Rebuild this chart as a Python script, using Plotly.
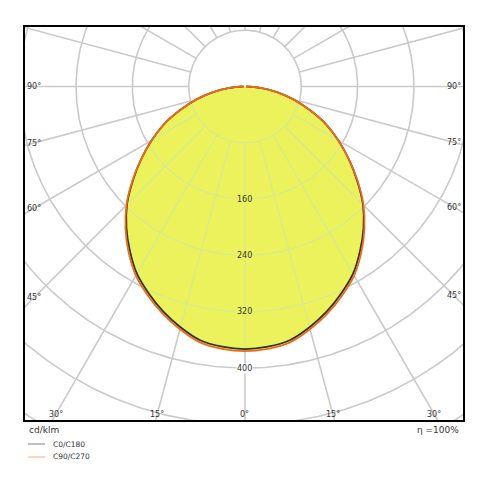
import numpy as np
import plotly.graph_objects as go

# luminous intensity in cd/klm, gamma 0..90 deg (mirrored for the other half-plane)
GAMMA = [0, 5, 10, 15, 20, 25, 30, 35, 40, 45, 50, 55, 60, 65, 70, 75, 80, 85, 90]
C0_C180 = [373, 371, 366, 354, 340, 324, 307, 285, 262, 237, 208, 180, 153, 127, 98, 72, 46, 22, 2]
C90_C270 = [376, 374, 369, 357, 343, 327, 310, 288, 264, 238, 209, 180, 153, 127, 98, 72, 46, 22, 2]

RINGS = [80, 160, 240, 320, 400, 480, 560, 640]
RING_LABELS = [160, 240, 320, 400]
SPOKES = list(range(0, 360, 15))
SIDE_LABELS = [90, 75, 60, 45]
BOTTOM_LABELS = [-30, -15, 0, 15, 30]

X_RANGE = [-312.5, 309.7]
Y_RANGE = [-473.7, 84.5]
GRID = '#cacaca'
GRID_IN = '#d7ea8e'
FILL = '#ecf25c'
TXT = '#333333'
FONT = 'DejaVu Sans'


def pol(r, g):
    g = np.radians(np.asarray(g, dtype=float))
    r = np.asarray(r, dtype=float)
    return r * np.sin(g), -r * np.cos(g)


def closed(vals):
    g = [-a for a in GAMMA[::-1]] + GAMMA[1:]
    v = vals[::-1] + vals[1:]
    return pol(v, g)


fig = go.Figure()

# polar grid: rings and spokes (spokes start at the first ring)
ring_x, ring_y = [], []
for R in RINGS:
    x, y = pol(np.full(721, R), np.linspace(0, 360, 721))
    ring_x += list(x) + [None]
    ring_y += list(y) + [None]
fig.add_trace(go.Scatter(x=ring_x, y=ring_y, mode='lines', line=dict(color=GRID, width=1.6), hoverinfo='skip'))

sp_x, sp_y = [], []
for a in SPOKES:
    x, y = pol([RINGS[0], 1000], [a, a])
    sp_x += list(x) + [None]
    sp_y += list(y) + [None]
fig.add_trace(go.Scatter(x=sp_x, y=sp_y, mode='lines', line=dict(color=GRID, width=1.6), hoverinfo='skip'))

# yellow area
fx, fy = closed(C90_C270)
fig.add_trace(go.Scatter(x=fx, y=fy, mode='lines', fill='toself', fillcolor=FILL,
                         line=dict(width=0, shape='spline', smoothing=0.9), hoverinfo='skip'))

# grid seen through the area
gi = np.linspace(-90, 90, 721)
Ii = np.interp(np.abs(gi), GAMMA, C0_C180)
in_x, in_y = [], []
for R in RINGS:
    x, y = pol(np.full(gi.size, R), gi)
    m = Ii > R + 2
    if not m.any():
        continue
    in_x += list(np.where(m, x, np.nan)) + [None]
    in_y += list(np.where(m, y, np.nan)) + [None]
for a in SPOKES:
    aa = a if a <= 180 else a - 360
    if abs(aa) >= 90:
        continue
    r_end = np.interp(abs(aa), GAMMA, C0_C180) - 2
    if r_end <= RINGS[0]:
        continue
    x, y = pol([RINGS[0], r_end], [aa, aa])
    in_x += list(x) + [None]
    in_y += list(y) + [None]
fig.add_trace(go.Scatter(x=in_x, y=in_y, mode='lines', line=dict(color=GRID_IN, width=1.3), hoverinfo='skip'))

# intensity curves
cx, cy = closed(C0_C180)
fig.add_trace(go.Scatter(x=cx, y=cy, mode='lines', name='C0/C180',
                         line=dict(color='#2d3220', width=1.8, shape='spline', smoothing=0.9)))
ox, oy = closed(C90_C270)
fig.add_trace(go.Scatter(x=ox, y=oy, mode='lines', name='C90/C270',
                         line=dict(color='#ee6a1e', width=1.8, shape='spline', smoothing=0.9)))

ann = []
for a in SIDE_LABELS:
    t = np.tan(np.radians(a))
    ann.append(dict(x=-300, y=-300 / t, text=f'{a}°', xref='x', yref='y', showarrow=False,
                    font=dict(size=8, color=TXT, family=FONT)))
    ann.append(dict(x=297, y=-297 / t, text=f'{a}°', xref='x', yref='y', showarrow=False,
                    font=dict(size=8, color=TXT, family=FONT)))
for a in BOTTOM_LABELS:
    yl = -465.2
    ann.append(dict(x=-yl * np.tan(np.radians(a)), y=yl, text=f'{abs(a)}°', xref='x', yref='y',
                    showarrow=False, font=dict(size=8, color=TXT, family=FONT)))
for R in RING_LABELS:
    bg = FILL if R < C0_C180[0] else 'white'
    ann.append(dict(x=0, y=-R, text=str(R), xref='x', yref='y', showarrow=False, bgcolor=bg,
                    borderpad=0, font=dict(size=8, color=TXT, family=FONT)))


def px(xp, yp):
    return (xp - 25) / 438, (420 - yp) / 393


x0, y0 = px(27, 430)
ann.append(dict(x=x0, y=y0, text='cd/klm', xref='paper', yref='paper', xanchor='left', yanchor='middle',
                showarrow=False, font=dict(size=9, color=TXT, family=FONT)))
x1, y1 = px(461, 430)
ann.append(dict(x=x1, y=y1, text='η =100%', xref='paper', yref='paper', xanchor='right', yanchor='middle',
                showarrow=False, font=dict(size=9, color=TXT, family=FONT)))

shapes = []
for i, (lab, col) in enumerate([('C0/C180', '#808080'), ('C90/C270', '#f5ad7c')]):
    yp = 444 + 13 * i
    xa, ya = px(28, yp)
    xb, _ = px(45, yp)
    shapes.append(dict(type='line', xref='paper', yref='paper', x0=xa, x1=xb, y0=ya, y1=ya,
                       line=dict(color=col, width=1)))
    xt, _ = px(51, yp)
    ann.append(dict(x=xt, y=ya, text=lab, xref='paper', yref='paper', xanchor='left', yanchor='middle',
                    showarrow=False, font=dict(size=7.5, color=TXT, family=FONT)))

ax = dict(showgrid=False, zeroline=False, showticklabels=False, ticks='',
          showline=True, mirror=True, linecolor='black', linewidth=2)
# page has an 8px body margin, so the plot area is shifted left/up by that amount
fig.update_layout(
    width=490, height=490, margin=dict(l=17, r=35, t=19, b=78),
    paper_bgcolor='white', plot_bgcolor='white', showlegend=False,
    xaxis=dict(range=X_RANGE, **ax), yaxis=dict(range=Y_RANGE, **ax),
    annotations=ann, shapes=shapes)

fig.write_html('out.html')
